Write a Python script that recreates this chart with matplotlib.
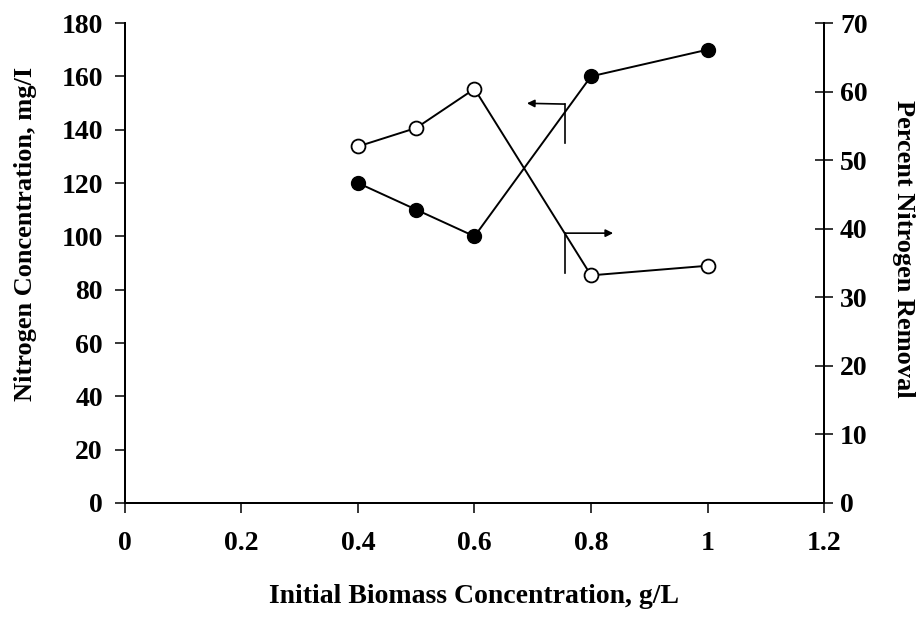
import matplotlib
matplotlib.use("Agg")
import matplotlib.pyplot as plt

plt.rcParams['font.family'] = ['Liberation Serif', 'DejaVu Serif']
plt.rcParams['font.weight'] = 'bold'

biomass = [0.4, 0.5, 0.6, 0.8, 1.0]
nitrogen_conc = [120, 110, 100, 160, 170]
percent_removal = [52, 54.7, 60.4, 33.2, 34.6]

x_ticks = [0, 0.2, 0.4, 0.6, 0.8, 1.0, 1.2]
x_tick_labels = ['0', '0.2', '0.4', '0.6', '0.8', '1', '1.2']
left_ticks = list(range(0, 181, 20))
right_ticks = list(range(0, 71, 10))

fig = plt.figure(figsize=(9.21, 6.19), dpi=100)
ax = fig.add_axes([0.1357, 0.1874, 0.759, 0.7754])
ax2 = ax.twinx()

ax.plot(biomass, nitrogen_conc, color='black', lw=1.4, marker='o',
        markersize=10, markerfacecolor='black', markeredgecolor='black', zorder=3)
ax2.plot(biomass, percent_removal, color='black', lw=1.4, marker='o',
         markersize=10, markerfacecolor='white', markeredgecolor='black',
         markeredgewidth=1.3, zorder=3)

ax.set_xlim(0, 1.2)
ax.set_ylim(0, 180)
ax2.set_ylim(0, 70)
ax.set_xticks(x_ticks)
ax.set_xticklabels(x_tick_labels)
ax.set_yticks(left_ticks)
ax2.set_yticks(right_ticks)

for a in (ax, ax2):
    for s in a.spines.values():
        s.set_linewidth(1.4)
    a.spines['top'].set_visible(False)

ax.tick_params(axis='both', labelsize=20, width=1.1, length=7, direction='out')
ax.tick_params(axis='x', pad=13)
ax.tick_params(axis='y', pad=9)
ax2.tick_params(axis='y', labelsize=20, width=1.1, length=13, direction='inout', pad=5)
for lab in ax.get_xticklabels() + ax.get_yticklabels() + ax2.get_yticklabels():
    lab.set_fontweight('bold')

ax.set_xlabel('Initial Biomass Concentration, g/L', fontsize=20, fontweight='bold', labelpad=20)
ax.set_ylabel('Nitrogen Concentration, mg/I', fontsize=19, fontweight='bold')
ax.yaxis.set_label_coords(-0.126, 0.56)
ax2.set_ylabel('Percent Nitrogen Removal', fontsize=19, fontweight='bold', rotation=270)
ax2.yaxis.set_label_coords(1.130, 0.53)

# Pointer marks showing which axis each curve belongs to
ax.plot([0.755, 0.755], [135.0, 149.6], color='black', lw=1.2)
ax.annotate('', xy=(0.690, 149.9), xytext=(0.755, 149.6),
            arrowprops=dict(arrowstyle='-|>', color='black', lw=1.2,
                            mutation_scale=11, shrinkA=0, shrinkB=0))
ax.plot([0.755, 0.755], [86.2, 101.2], color='black', lw=1.2)
ax.annotate('', xy=(0.838, 101.2), xytext=(0.755, 101.2),
            arrowprops=dict(arrowstyle='-|>', color='black', lw=1.2,
                            mutation_scale=11, shrinkA=0, shrinkB=0))

fig.savefig('out.png', dpi=100)
